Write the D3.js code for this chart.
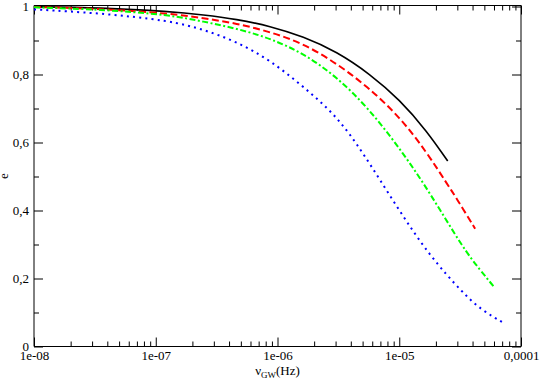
<!DOCTYPE html>
<html>
<head>
<meta charset="utf-8">
<script src="https://cdn.jsdelivr.net/npm/d3@7"></script>
<style>
  body { margin: 0; background: #fff; }
  svg text { font-family: 'Liberation Serif', 'Times New Roman', serif; }
</style>
</head>
<body>
<script>
// data: [frequency (Hz), eccentricity]
var blackPts = [[1e-8, 0.998], [3.5e-8, 0.995], [1.31e-7, 0.984], [2.46e-7, 0.974], [4.62e-7, 0.961],
    [8.68e-7, 0.941], [1.63e-6, 0.91], [3.06e-6, 0.866], [5.75e-6, 0.8],
    [1.01e-5, 0.724], [1.68e-5, 0.633], [2.5e-5, 0.544]];
var redPts = [[1e-8, 0.997], [3.5e-8, 0.992], [1.31e-7, 0.978], [2.46e-7, 0.964], [4.62e-7, 0.949],
    [8.68e-7, 0.924], [1.63e-6, 0.89], [3.06e-6, 0.831], [5.4e-6, 0.765], [1.01e-5, 0.674],
    [1.68e-5, 0.57], [2.45e-5, 0.479], [2.96e-5, 0.434], [4.2e-5, 0.345]];
var greenPts = [[1e-8, 0.996], [3.5e-8, 0.99], [1.31e-7, 0.974], [2.46e-7, 0.954], [4.62e-7, 0.934],
    [8.68e-7, 0.905], [1.63e-6, 0.861], [3.06e-6, 0.792], [5.75e-6, 0.695], [1.08e-5, 0.567],
    [1.79e-5, 0.45], [3.34e-5, 0.288], [4.6e-5, 0.224], [6.0e-5, 0.174]];
var bluePts = [[1e-8, 0.99], [3.5e-8, 0.979], [1.31e-7, 0.957], [2.46e-7, 0.931], [4.62e-7, 0.895],
    [8.68e-7, 0.841], [1.63e-6, 0.763], [3.06e-6, 0.677], [5.04e-6, 0.569], [9.5e-6, 0.41],
    [1.79e-5, 0.263], [3.34e-5, 0.156], [4.6e-5, 0.109], [7.1e-5, 0.069]];

var xTicks = [1e-8, 1e-7, 1e-6, 1e-5, 1e-4];
var xTickLabels = ["1e-08", "1e-07", "1e-06", "1e-05", "0,0001"];
var yTicks = [0, 0.2, 0.4, 0.6, 0.8, 1];
var yTickLabels = ["0", "0,2", "0,4", "0,6", "0,8", "1"];
var yMinor = [0.1, 0.3, 0.5, 0.7, 0.9];

var width = 540,
    height = 383,
    padL = 34, padR = 521, padT = 6, padB = 346,
    serif = "'Liberation Serif', 'Times New Roman', serif";

var svg = d3.select("body").append("svg")
    .attr("width", width)
    .attr("height", height)
    .attr("font-family", serif);

var x = d3.scaleLog().domain([1e-8, 1e-4]).range([padL, padR]);
var y = d3.scaleLinear().domain([0, 1]).range([padB, padT]);

// minor log ticks 2..9 per decade
var xMinor = [];
xTicks.slice(0, -1).forEach(function (d) {
    for (var k = 2; k <= 9; k++) xMinor.push(d * k);
});

function fmtX(d) { return xTickLabels[xTicks.indexOf(d)]; }
function fmtY(d) { return yTickLabels[yTicks.indexOf(d)]; }

function style(g) {
    g.attr("font-family", serif).attr("font-size", 13);
    g.select(".domain").remove();
    g.selectAll("line").attr("stroke", "#000");
    g.selectAll("text").attr("fill", "#000");
}

// bottom
svg.append("g").attr("transform", "translate(0," + (padB + 0.5) + ")")
    .call(d3.axisBottom(x).tickValues(xTicks).tickSize(-9).tickPadding(4).tickFormat(fmtX)).call(style);
svg.append("g").attr("transform", "translate(0," + (padB + 0.5) + ")")
    .call(d3.axisBottom(x).tickValues(xMinor).tickSize(-5).tickFormat("")).call(style);
// top
svg.append("g").attr("transform", "translate(0," + (padT - 0.5) + ")")
    .call(d3.axisTop(x).tickValues(xTicks).tickSize(-9).tickFormat("")).call(style);
svg.append("g").attr("transform", "translate(0," + (padT - 0.5) + ")")
    .call(d3.axisTop(x).tickValues(xMinor).tickSize(-5).tickFormat("")).call(style);
// left
svg.append("g").attr("transform", "translate(" + padL + ",0.5)")
    .call(d3.axisLeft(y).tickValues(yTicks).tickSize(-9).tickPadding(5).tickFormat(fmtY)).call(style);
svg.append("g").attr("transform", "translate(" + padL + ",0.5)")
    .call(d3.axisLeft(y).tickValues(yMinor).tickSize(-5).tickFormat("")).call(style);
// right
svg.append("g").attr("transform", "translate(" + padR + ",0.5)")
    .call(d3.axisRight(y).tickValues(yTicks).tickSize(-9).tickFormat("")).call(style);
svg.append("g").attr("transform", "translate(" + padR + ",0.5)")
    .call(d3.axisRight(y).tickValues(yMinor).tickSize(-5).tickFormat("")).call(style);

// frame
svg.append("path")
    .attr("d", "M" + padL + "," + (padT - 0.5) + "V" + (padB + 0.5) + "H" + padR + "V" + (padT - 0.5) + "Z")
    .attr("fill", "none")
    .attr("stroke", "#000")
    .attr("stroke-width", 1);

var line = d3.line()
    .x(function (d) { return x(d[0]); })
    .y(function (d) { return y(d[1]); })
    .curve(d3.curveBasis);

var series = [
    { pts: blackPts, color: "#000000", dash: null, w: 1.6 },
    { pts: redPts, color: "#ff0000", dash: "7,3.5", w: 2 },
    { pts: greenPts, color: "#00ff00", dash: "6,2.5,2,2.5", w: 2 },
    { pts: bluePts, color: "#0000ff", dash: "2,4.2", w: 2 }
];

svg.append("g").selectAll("path")
    .data(series)
    .enter().append("path")
    .attr("d", function (d) { return line(d.pts); })
    .attr("fill", "none")
    .attr("stroke", function (d) { return d.color; })
    .attr("stroke-width", function (d) { return d.w; })
    .attr("stroke-dasharray", function (d) { return d.dash; });

// axis titles
var xt = svg.append("text")
    .attr("x", (padL + padR) / 2)
    .attr("y", 375)
    .attr("text-anchor", "middle")
    .attr("font-size", 13);
xt.append("tspan").text("ν");
xt.append("tspan").attr("font-size", 9).attr("dy", 3).text("GW");
xt.append("tspan").attr("dy", -3).text("(Hz)");

svg.append("text")
    .attr("transform", "translate(8," + ((padT + padB) / 2) + ") rotate(-90)")
    .attr("text-anchor", "middle")
    .attr("font-size", 13)
    .text("e");
</script>
</body>
</html>
